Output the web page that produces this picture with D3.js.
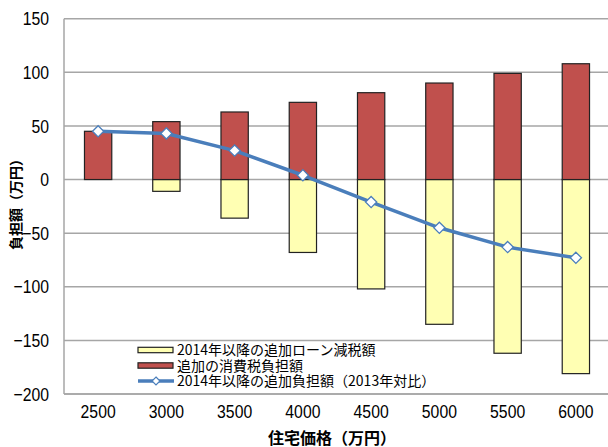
<!DOCTYPE html>
<html>
<head>
<meta charset="utf-8">
<script src="https://cdn.jsdelivr.net/npm/d3@7"></script>
<style>
  html, body { margin: 0; padding: 0; background: #fff; }
  svg { display: block; }
</style>
</head>
<body>
<svg id="chart" width="608" height="447"></svg>
<script>
// Housing price (10,000 yen) and the burden components
const prices = ["2500", "3000", "3500", "4000", "4500", "5000", "5500", "6000"];
const loanTaxCut = [0, -11, -36, -68, -102, -135, -162, -181];   // 2014年以降の追加ローン減税額
const consumptionTax = [45, 54, 63, 72, 81, 90, 99, 108];         // 追加の消費税負担額
const netBurden = [45, 43, 27, 4, -21, -45, -63, -73];             // 2014年以降の追加負担額（2013年対比）
const yTicks = [-200, -150, -100, -50, 0, 50, 100, 150];

const seriesNames = [
  "2014年以降の追加ローン減税額",
  "追加の消費税負担額",
  "2014年以降の追加負担額（2013年対比）"
];

const numFont = "'Liberation Sans', Arial, sans-serif";
const cjkFont = "'Noto Sans CJK JP', 'Noto Sans', sans-serif";
// tall, condensed look for the numeric labels
const narrow = "scale(0.83,1)";

const svg = d3.select("#chart");
const plotLeft = 64, plotRight = 610, plotTop = 18.7, plotBottom = 394;

const x = d3.scaleBand().domain(prices).range([plotLeft, plotRight]).padding(0);
const y = d3.scaleLinear().domain([-200, 150]).range([plotBottom, plotTop]);
const barW = x.bandwidth() * 0.4;

// gridlines
svg.append("g").selectAll("line").data(yTicks).join("line")
  .attr("x1", plotLeft).attr("x2", 608)
  .attr("y1", d => y(d)).attr("y2", d => y(d))
  .attr("stroke", "#a6a6a6").attr("stroke-width", 1.5);

// left frame line
svg.append("line")
  .attr("x1", plotLeft).attr("x2", plotLeft).attr("y1", plotTop).attr("y2", plotBottom)
  .attr("stroke", "#a6a6a6").attr("stroke-width", 1.5);

// y axis labels
const yAxis = d3.axisLeft(y).tickValues(yTicks).tickSize(0).tickPadding(0)
  .tickFormat(d => d < 0 ? "\u2212" + Math.abs(d) : String(d));
const yg = svg.append("g").attr("transform", `translate(${49},0)`).call(yAxis);
yg.select(".domain").remove();
yg.selectAll("text").attr("font-family", numFont).attr("font-size", 19).attr("fill", "#000")
  .attr("transform", narrow);

// x axis labels
const xAxis = d3.axisBottom(x).tickSize(0).tickPadding(0);
const xg = svg.append("g").attr("transform", `translate(0,${404})`).call(xAxis);
xg.select(".domain").remove();
xg.selectAll("text").attr("font-family", numFont).attr("font-size", 19).attr("fill", "#000")
  .attr("transform", narrow);

// loan tax cut bars (negative)
svg.append("g").selectAll("rect").data(prices.map((p, i) => ({ p, v: loanTaxCut[i] })).filter(d => d.v !== 0))
  .join("rect")
  .attr("x", d => x(d.p) + (x.bandwidth() - barW) / 2)
  .attr("width", barW)
  .attr("y", d => y(0))
  .attr("height", d => y(d.v) - y(0))
  .attr("fill", "#ffffb3").attr("stroke", "#222").attr("stroke-width", 1.2);

// consumption tax bars (positive)
svg.append("g").selectAll("rect").data(prices.map((p, i) => ({ p, v: consumptionTax[i] })))
  .join("rect")
  .attr("x", d => x(d.p) + (x.bandwidth() - barW) / 2)
  .attr("width", barW)
  .attr("y", d => y(d.v))
  .attr("height", d => y(0) - y(d.v))
  .attr("fill", "#c0504d").attr("stroke", "#222").attr("stroke-width", 1.2);

// bottom frame line
svg.append("line")
  .attr("x1", plotLeft).attr("x2", 608).attr("y1", plotBottom).attr("y2", plotBottom)
  .attr("stroke", "#a6a6a6").attr("stroke-width", 1.5);

// net burden line
const lineData = prices.map((p, i) => ({ p, v: netBurden[i] }));
const line = d3.line().x(d => x(d.p) + x.bandwidth() / 2).y(d => y(d.v));
svg.append("path").datum(lineData)
  .attr("d", line).attr("fill", "none")
  .attr("stroke", "#4a7ebb").attr("stroke-width", 3.5).attr("stroke-linejoin", "round");

const diamond = d3.symbol().type(d3.symbolDiamond2).size(80);
svg.append("g").selectAll("path").data(lineData).join("path")
  .attr("transform", d => `translate(${x(d.p) + x.bandwidth() / 2},${y(d.v)})`)
  .attr("d", diamond)
  .attr("fill", "#fff").attr("stroke", "#4a7ebb").attr("stroke-width", 1.3);

// legend
const lg = svg.append("g").attr("transform", "translate(138,350)");
const rowH = 15.5;
lg.append("rect").attr("x", 0).attr("y", -2.7).attr("width", 35).attr("height", 5.4)
  .attr("fill", "#ffffb3").attr("stroke", "#222").attr("stroke-width", 1.2);
lg.append("rect").attr("x", 0).attr("y", rowH - 2.7).attr("width", 35).attr("height", 5.4)
  .attr("fill", "#c0504d").attr("stroke", "#222").attr("stroke-width", 1.2);
lg.append("line").attr("x1", 0).attr("x2", 36).attr("y1", rowH * 2).attr("y2", rowH * 2)
  .attr("stroke", "#4a7ebb").attr("stroke-width", 3.5);
lg.append("path").attr("transform", `translate(18,${rowH * 2})`)
  .attr("d", d3.symbol().type(d3.symbolDiamond2).size(40))
  .attr("fill", "#fff").attr("stroke", "#4a7ebb").attr("stroke-width", 1.2);
lg.selectAll("text").data(seriesNames).join("text")
  .attr("x", 39).attr("y", (d, i) => i * rowH)
  .attr("dy", "0.36em")
  .attr("font-family", cjkFont).attr("font-size", 14).attr("fill", "#000")
  .text(d => d);

// axis titles
svg.append("text")
  .attr("transform", "translate(16,201) rotate(-90)")
  .attr("text-anchor", "middle").attr("dy", "0.36em")
  .attr("font-family", cjkFont).attr("font-weight", "bold").attr("font-size", 14)
  .text("負担額（万円）");

svg.append("text")
  .attr("x", 332).attr("y", 438).attr("dy", "0.36em")
  .attr("text-anchor", "middle")
  .attr("font-family", cjkFont).attr("font-weight", "bold").attr("font-size", 16)
  .text("住宅価格（万円）");
</script>
</body>
</html>
